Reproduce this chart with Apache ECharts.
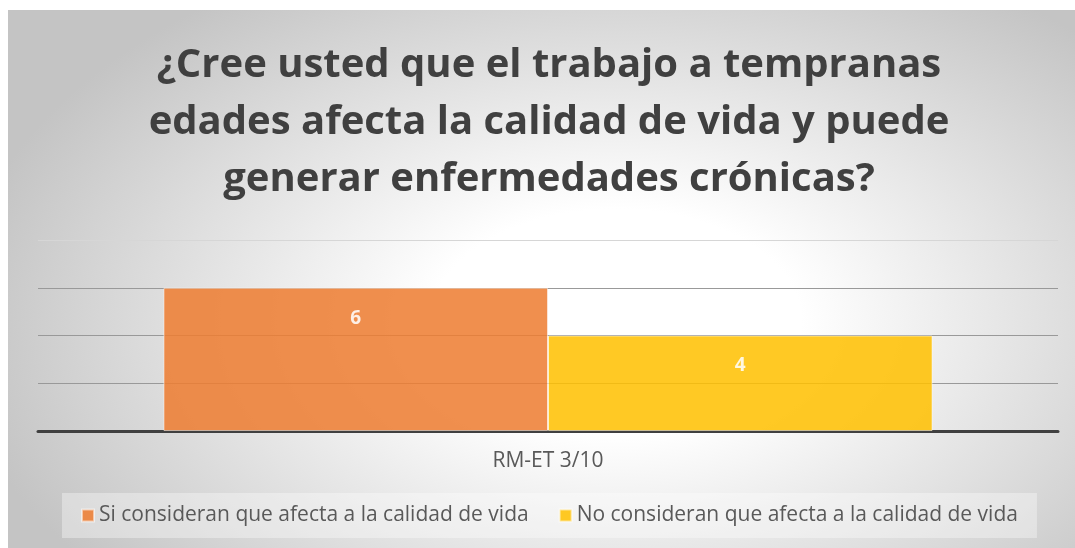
<!DOCTYPE html>
<html>
<head>
<meta charset="utf-8">
<script src="https://cdn.jsdelivr.net/npm/echarts@6/dist/echarts.min.js"></script>
<style>
    html, body { margin: 0; padding: 0; background: #fff; }
    #chart {
        position: absolute; left: 8px; top: 10px; width: 1067px; height: 538px;
        background: radial-gradient(ellipse 62% 75% at 57% 58%, #ffffff 0%, #ffffff 28%, #c4c4c4 100%);
    }
</style>
</head>
<body>
<div id="chart"></div>
<script>
    var categories = ['RM-ET 3/10'];
    var seriesNames = ['Si consideran que afecta a la calidad de vida', 'No consideran que afecta a la calidad de vida'];
    var siValues = [6];
    var noValues = [4];
    var titleText = '¿Cree usted que el trabajo a tempranas\nedades afecta la calidad de vida y puede\ngenerar enfermedades crónicas?';

    var chart = echarts.init(document.getElementById('chart'));
    chart.setOption({
        backgroundColor: 'transparent',
        textStyle: { fontFamily: 'Open Sans' },
        title: {
            text: titleText,
            left: 536,
            textAlign: 'center',
            top: 22,
            textStyle: {
                fontFamily: 'Open Sans',
                fontWeight: 'bold',
                fontSize: 40,
                lineHeight: 57,
                color: '#404040'
            }
        },
        legend: {
            left: 54,
            top: 483,
            itemWidth: 12,
            itemHeight: 12,
            itemGap: 30,
            icon: 'rect',
            padding: [12, 19, 12, 19],
            backgroundColor: 'rgba(255,255,255,0.35)',
            textStyle: { fontSize: 21, color: '#595959', fontFamily: 'Open Sans' },
            data: seriesNames
        },
        grid: { left: 30, right: 17, top: 230, bottom: 117, containLabel: false },
        xAxis: {
            type: 'category',
            data: categories,
            axisLine: { lineStyle: { color: '#404040', width: 3 } },
            axisTick: { show: false },
            axisLabel: { fontSize: 21, color: '#595959', margin: 20 }
        },
        yAxis: {
            type: 'value',
            min: 0,
            max: 8,
            interval: 2,
            axisLabel: { show: false },
            axisLine: { show: false },
            axisTick: { show: false },
            splitLine: { lineStyle: { color: ['#999', '#999', '#999', '#999', '#d6d6d6'], width: 1 } }
        },
        series: [
            {
                name: seriesNames[0],
                type: 'bar',
                barCategoryGap: '24.6%',
                barGap: '0%',
                data: siValues,
                itemStyle: { color: '#ED7D31', opacity: 0.86, borderColor: 'rgba(255,255,255,0.6)', borderWidth: 1 },
                label: { show: true, position: 'insideTop', distance: 21, color: '#fff', fontWeight: 'bold', fontSize: 19 }
            },
            {
                name: seriesNames[1],
                type: 'bar',
                barCategoryGap: '24.6%',
                barGap: '0%',
                data: noValues,
                itemStyle: { color: '#FFC000', opacity: 0.86, borderColor: 'rgba(255,255,255,0.6)', borderWidth: 1 },
                label: { show: true, position: 'insideTop', distance: 21, color: '#fff', fontWeight: 'bold', fontSize: 19 }
            }
        ]
    });
</script>
</body>
</html>
